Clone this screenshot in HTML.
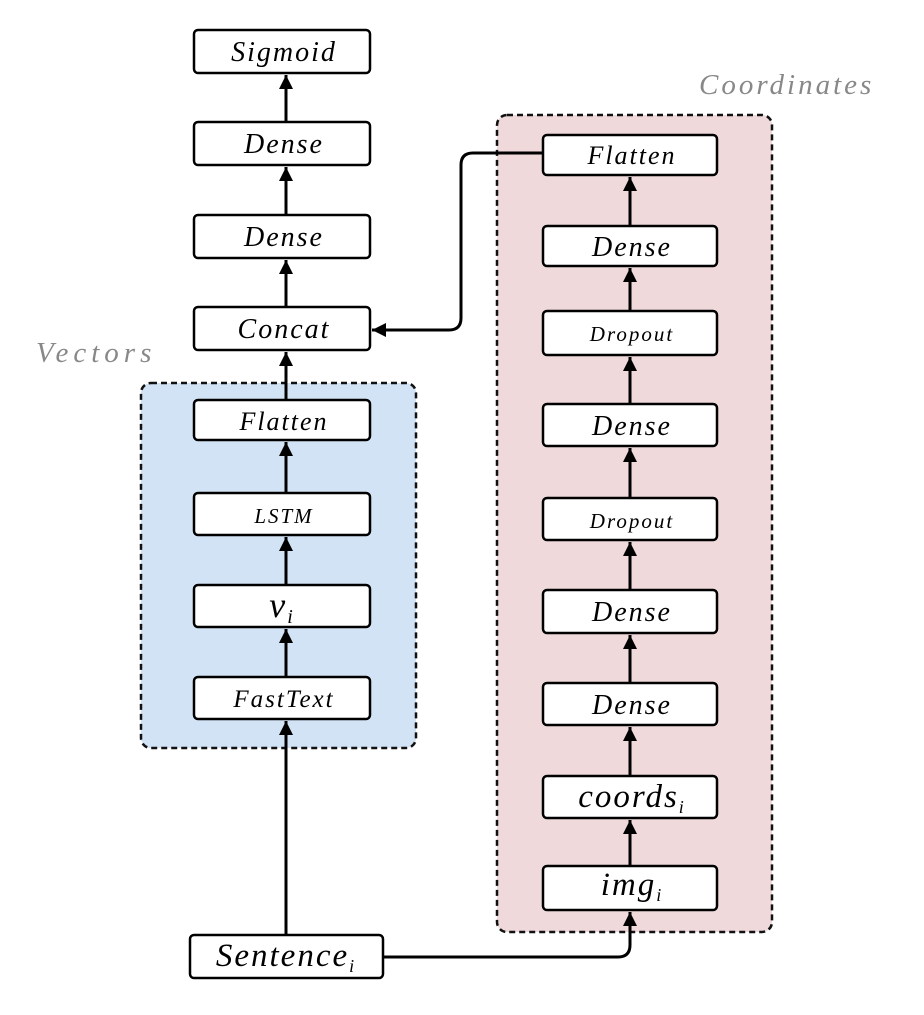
<!DOCTYPE html>
<html><head><meta charset="utf-8"><style>body{margin:0;background:#fff}</style></head><body>
<svg width="924" height="1010" viewBox="0 0 924 1010" xmlns="http://www.w3.org/2000/svg" font-family="Liberation Serif, serif" font-style="italic">
<defs><marker id="b" viewBox="0 0 10 10" markerWidth="14" markerHeight="14" refX="10" refY="5" orient="auto" markerUnits="userSpaceOnUse"><path d="M0,0 L10,5 L0,10 z" fill="#000"/></marker></defs>
<rect x="141" y="383" width="275" height="365" rx="10" fill="#d3e3f6" stroke="#111" stroke-width="2.5" stroke-dasharray="6,4"/>
<rect x="497" y="115" width="275" height="817" rx="10" fill="#efd9db" stroke="#111" stroke-width="2.5" stroke-dasharray="6,4"/>
<text x="36" y="362" font-size="29" fill="#888" letter-spacing="5">Vectors</text>
<text x="699" y="94" font-size="29" fill="#888" letter-spacing="3">Coordinates</text>
<g stroke="#000" stroke-width="3" fill="none" marker-end="url(#b)">
<line x1="286" y1="122" x2="286" y2="75"/>
<line x1="286" y1="215" x2="286" y2="167"/>
<line x1="286" y1="307" x2="286" y2="260"/>
<line x1="286" y1="400" x2="286" y2="352"/>
<line x1="286" y1="493" x2="286" y2="442"/>
<line x1="286" y1="585" x2="286" y2="537"/>
<line x1="286" y1="677" x2="286" y2="629"/>
<line x1="286" y1="935" x2="286" y2="721"/>
<line x1="630" y1="226" x2="630" y2="177"/>
<line x1="630" y1="311" x2="630" y2="268"/>
<line x1="630" y1="404" x2="630" y2="357"/>
<line x1="630" y1="498" x2="630" y2="448"/>
<line x1="630" y1="590" x2="630" y2="542"/>
<line x1="630" y1="683" x2="630" y2="635"/>
<line x1="630" y1="776" x2="630" y2="727"/>
<line x1="630" y1="866" x2="630" y2="820"/>
<path d="M543,153 L473,153 Q461,153 461,165 L461,318 Q461,330 449,330 L372,330"/>
<path d="M383,957 L618,957 Q630,957 630,945 L630,912"/>
</g>
<g fill="#fff" stroke="#000" stroke-width="2.5">
<rect x="194" y="30" width="176" height="43" rx="4"/>
<rect x="194" y="122" width="176" height="43" rx="4"/>
<rect x="194" y="215" width="176" height="43" rx="4"/>
<rect x="194" y="307" width="176" height="43" rx="4"/>
<rect x="194" y="400" width="176" height="40" rx="4"/>
<rect x="194" y="493" width="176" height="42" rx="4"/>
<rect x="194" y="585" width="176" height="42" rx="4"/>
<rect x="194" y="677" width="176" height="42" rx="4"/>
<rect x="190" y="935" width="193" height="43" rx="4"/>
<rect x="543" y="135" width="174" height="40" rx="4"/>
<rect x="543" y="226" width="174" height="40" rx="4"/>
<rect x="543" y="311" width="174" height="44" rx="4"/>
<rect x="543" y="404" width="174" height="42" rx="4"/>
<rect x="543" y="498" width="174" height="42" rx="4"/>
<rect x="543" y="590" width="174" height="43" rx="4"/>
<rect x="543" y="683" width="174" height="42" rx="4"/>
<rect x="543" y="776" width="174" height="42" rx="4"/>
<rect x="543" y="866" width="174" height="44" rx="4"/>
</g>
<g font-size="28" text-anchor="middle" fill="#000" letter-spacing="2">
<text x="284" y="61">Sigmoid</text>
<text x="284" y="153">Dense</text>
<text x="284" y="246">Dense</text>
<text x="284" y="338">Concat</text>
<text x="284" y="430" font-size="26">Flatten</text>
<text x="284" y="523" font-size="21">LSTM</text>
<text x="282" y="617" font-size="36">v<tspan font-size="20" dy="6">i</tspan></text>
<text x="284" y="707" font-size="25">FastText</text>
<text x="286" y="966" font-size="33">Sentence<tspan font-size="18" dy="6">i</tspan></text>
<text x="632" y="164" font-size="26">Flatten</text>
<text x="632" y="256">Dense</text>
<text x="632" y="341" font-size="21">Dropout</text>
<text x="632" y="435">Dense</text>
<text x="632" y="528" font-size="21">Dropout</text>
<text x="632" y="621">Dense</text>
<text x="632" y="714">Dense</text>
<text x="632" y="807" font-size="33">coords<tspan font-size="18" dy="6">i</tspan></text>
<text x="632" y="895" font-size="33">img<tspan font-size="18" dy="6">i</tspan></text>
</g>
</svg>
</body></html>
